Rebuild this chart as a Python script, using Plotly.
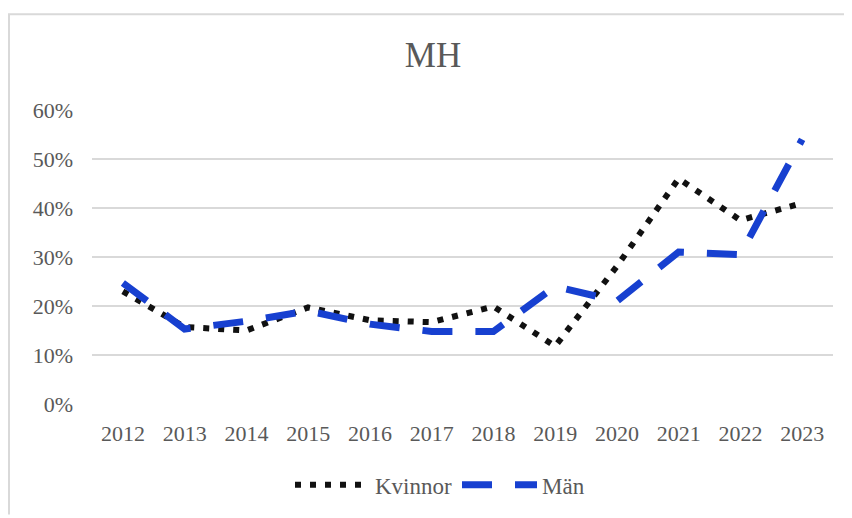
import plotly.graph_objects as go

# data
years = ["2012", "2013", "2014", "2015", "2016", "2017",
         "2018", "2019", "2020", "2021", "2022", "2023"]
kvinnor = [0.23, 0.157, 0.15, 0.197, 0.171, 0.167,
           0.199, 0.118, 0.281, 0.46, 0.375, 0.41]
man = [0.247, 0.153, 0.169, 0.19, 0.163, 0.148,
       0.148, 0.24, 0.21, 0.31, 0.305, 0.54]

TEXT = "#595959"
GRID = "#d9d9d9"
FONT = "Liberation Serif, Times New Roman, serif"

# page body has an 8px margin, so the figure is 8px smaller each way
W, H = 844, 510
L, T, R, B = 84, 102, 19, 110
PW, PH = W - L - R, H - T - B


def px_x(x):
    return (x - 8 - L) / PW


def px_y(y):
    return (H - B - (y - 8)) / PH


fig = go.Figure()
fig.add_trace(go.Scatter(x=years, y=kvinnor, name="Kvinnor", mode="lines",
                         line=dict(color="#111111", width=6, dash="6px,9px")))
fig.add_trace(go.Scatter(x=years, y=man, name="Män", mode="lines",
                         line=dict(color="#1740d0", width=7, dash="30px,23px")))

# light frame: top and left edges only
fig.add_shape(type="line", xref="paper", yref="paper",
              x0=px_x(8), x1=px_x(852), y0=px_y(13), y1=px_y(13),
              line=dict(color=GRID, width=2))
fig.add_shape(type="line", xref="paper", yref="paper",
              x0=px_x(9), x1=px_x(9), y0=px_y(13), y1=px_y(520),
              line=dict(color=GRID, width=2))

fig.update_layout(
    width=W, height=H,
    margin=dict(l=L, r=R, t=T, b=B),
    paper_bgcolor="white", plot_bgcolor="white",
    font=dict(family=FONT, size=22, color=TEXT),
    title=dict(text="MH", x=(433 - 8) / W, xanchor="center", xref="container",
               y=1 - (55 - 8) / H, yanchor="middle", yref="container",
               font=dict(size=35, color=TEXT, family=FONT)),
    legend=dict(orientation="h", x=px_x(440), xanchor="center",
                y=px_y(490), yanchor="middle",
                font=dict(size=23, color=TEXT, family=FONT), itemwidth=75),
    showlegend=True,
)
fig.update_xaxes(type="category", range=[-0.5, len(years) - 0.5],
                 showgrid=False, showline=False, ticks="",
                 ticklabelstandoff=14, automargin=False)
fig.update_yaxes(range=[0, 0.6], dtick=0.1, tickformat=".0%",
                 showgrid=True, gridcolor=GRID, gridwidth=2,
                 zeroline=False, showline=False, ticklabelstandoff=18,
                 automargin=False)

fig.write_html("out.html")
